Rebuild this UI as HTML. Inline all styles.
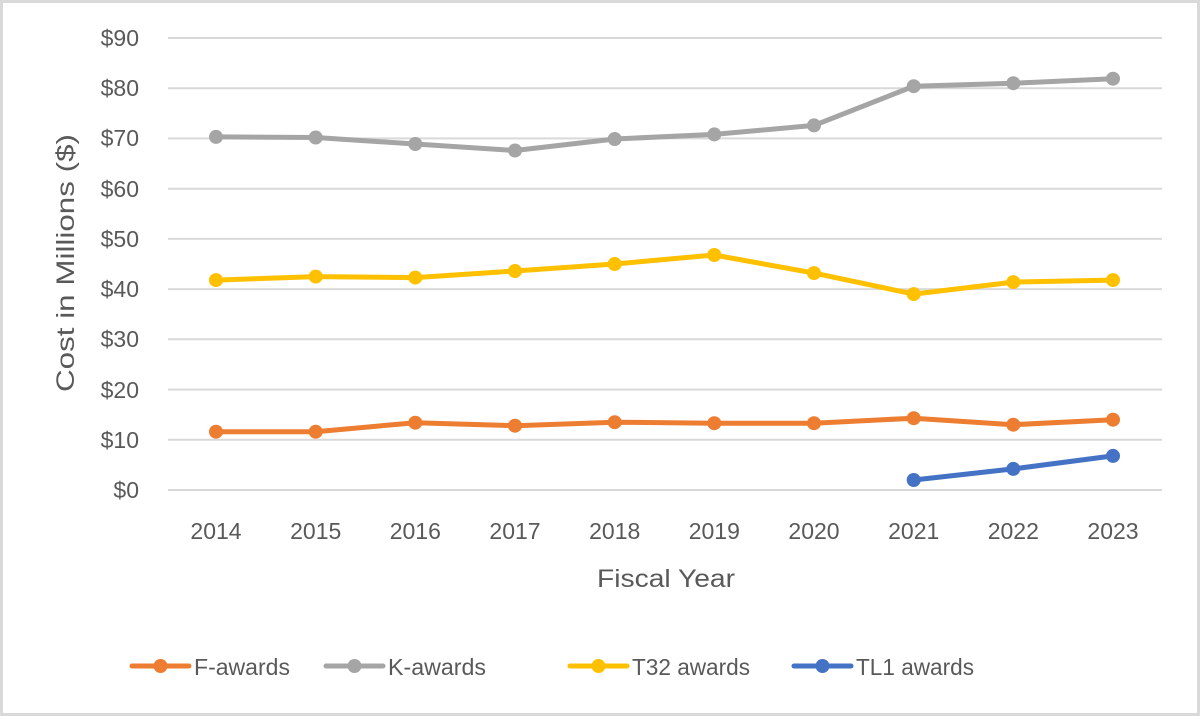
<!DOCTYPE html>
<html><head><meta charset="utf-8"><style>
html,body{margin:0;padding:0;background:#fff}
svg{display:block}
text{font-family:"Liberation Sans",sans-serif;fill:#595959}
</style></head><body>
<svg width="1200" height="716" viewBox="0 0 1200 716" xmlns="http://www.w3.org/2000/svg">
<rect x="1.5" y="1.5" width="1197" height="713" fill="#fff" stroke="#d9d9d9" stroke-width="3"/>
<g stroke="#d9d9d9" stroke-width="2">
<line x1="168" x2="1162" y1="38" y2="38"/><line x1="168" x2="1162" y1="88.2" y2="88.2"/>
<line x1="168" x2="1162" y1="138.4" y2="138.4"/><line x1="168" x2="1162" y1="188.7" y2="188.7"/>
<line x1="168" x2="1162" y1="238.9" y2="238.9"/><line x1="168" x2="1162" y1="289.1" y2="289.1"/>
<line x1="168" x2="1162" y1="339.3" y2="339.3"/><line x1="168" x2="1162" y1="389.6" y2="389.6"/>
<line x1="168" x2="1162" y1="439.8" y2="439.8"/><line x1="168" x2="1162" y1="490" y2="490"/>
</g>
<g font-size="23" text-anchor="end">
<text x="139" y="46">$90</text><text x="139" y="96">$80</text><text x="139" y="146">$70</text>
<text x="139" y="197">$60</text><text x="139" y="247">$50</text><text x="139" y="297">$40</text>
<text x="139" y="347">$30</text><text x="139" y="398">$20</text><text x="139" y="448">$10</text>
<text x="139" y="498">$0</text>
</g>
<g font-size="23" text-anchor="middle">
<text x="216" y="539">2014</text><text x="315.7" y="539">2015</text><text x="415.3" y="539">2016</text>
<text x="515" y="539">2017</text><text x="614.7" y="539">2018</text><text x="714.3" y="539">2019</text>
<text x="814" y="539">2020</text><text x="913.7" y="539">2021</text><text x="1013.3" y="539">2022</text>
<text x="1113" y="539">2023</text>
</g>
<text x="597" y="587" font-size="25" textLength="138" lengthAdjust="spacingAndGlyphs">Fiscal Year</text>
<text transform="translate(74,392) rotate(-90)" font-size="25" textLength="258" lengthAdjust="spacingAndGlyphs">Cost in Millions ($)</text>
<g fill="none" stroke-width="5" stroke-linejoin="round" stroke-linecap="round">
<polyline stroke="#A5A5A5" points="216,136.9 315.7,137.5 415.3,144 515,150.5 614.7,139 714.3,134.4 814,125.4 913.7,86.2 1013.3,83.2 1113,78.7"/>
<polyline stroke="#FFC000" points="216,280.1 315.7,276.6 415.3,277.6 515,271 614.7,264 714.3,255 814,273.1 913.7,294.1 1013.3,282.1 1113,280.1"/>
<polyline stroke="#ED7D31" points="216,431.7 315.7,431.7 415.3,422.7 515,425.7 614.7,422.2 714.3,423.2 814,423.2 913.7,418.2 1013.3,424.7 1113,419.7"/>
<polyline stroke="#4472C4" points="913.7,480 1013.3,468.9 1113,455.9"/>
</g>
<g fill="#A5A5A5"><circle cx="216" cy="136.9" r="7"/><circle cx="315.7" cy="137.5" r="7"/><circle cx="415.3" cy="144" r="7"/><circle cx="515" cy="150.5" r="7"/><circle cx="614.7" cy="139" r="7"/><circle cx="714.3" cy="134.4" r="7"/><circle cx="814" cy="125.4" r="7"/><circle cx="913.7" cy="86.2" r="7"/><circle cx="1013.3" cy="83.2" r="7"/><circle cx="1113" cy="78.7" r="7"/></g>
<g fill="#FFC000"><circle cx="216" cy="280.1" r="7"/><circle cx="315.7" cy="276.6" r="7"/><circle cx="415.3" cy="277.6" r="7"/><circle cx="515" cy="271" r="7"/><circle cx="614.7" cy="264" r="7"/><circle cx="714.3" cy="255" r="7"/><circle cx="814" cy="273.1" r="7"/><circle cx="913.7" cy="294.1" r="7"/><circle cx="1013.3" cy="282.1" r="7"/><circle cx="1113" cy="280.1" r="7"/></g>
<g fill="#ED7D31"><circle cx="216" cy="431.7" r="7"/><circle cx="315.7" cy="431.7" r="7"/><circle cx="415.3" cy="422.7" r="7"/><circle cx="515" cy="425.7" r="7"/><circle cx="614.7" cy="422.2" r="7"/><circle cx="714.3" cy="423.2" r="7"/><circle cx="814" cy="423.2" r="7"/><circle cx="913.7" cy="418.2" r="7"/><circle cx="1013.3" cy="424.7" r="7"/><circle cx="1113" cy="419.7" r="7"/></g>
<g fill="#4472C4"><circle cx="913.7" cy="480" r="7"/><circle cx="1013.3" cy="468.9" r="7"/><circle cx="1113" cy="455.9" r="7"/></g>
<g stroke-width="5" stroke-linecap="round">
<line x1="132" x2="189" y1="666" y2="666" stroke="#ED7D31"/><circle cx="160.5" cy="666" r="7" fill="#ED7D31"/>
<line x1="326" x2="383" y1="666" y2="666" stroke="#A5A5A5"/><circle cx="354.5" cy="666" r="7" fill="#A5A5A5"/>
<line x1="570" x2="627" y1="666" y2="666" stroke="#FFC000"/><circle cx="598.5" cy="666" r="7" fill="#FFC000"/>
<line x1="794" x2="851" y1="666" y2="666" stroke="#4472C4"/><circle cx="822.5" cy="666" r="7" fill="#4472C4"/>
</g>
<g font-size="23">
<text x="194" y="675" textLength="96" lengthAdjust="spacingAndGlyphs">F-awards</text>
<text x="388" y="675" textLength="98" lengthAdjust="spacingAndGlyphs">K-awards</text>
<text x="632" y="675" textLength="118" lengthAdjust="spacingAndGlyphs">T32 awards</text>
<text x="856" y="675" textLength="118" lengthAdjust="spacingAndGlyphs">TL1 awards</text>
</g>
</svg>
</body></html>
